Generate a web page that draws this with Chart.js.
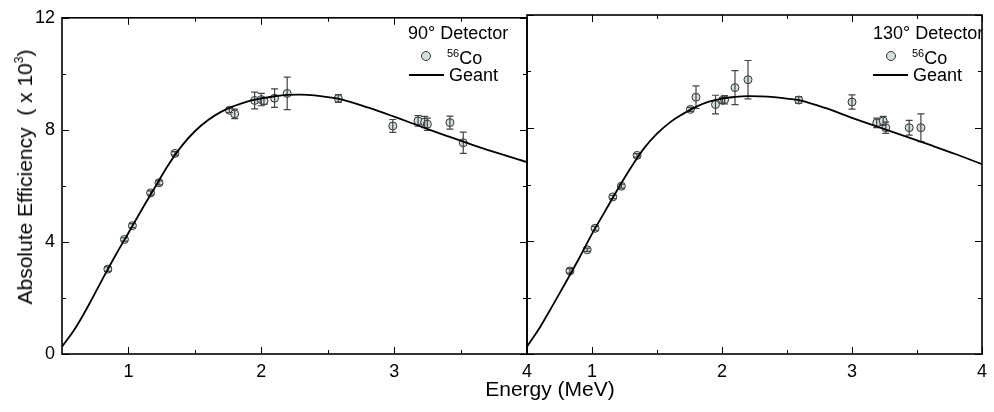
<!DOCTYPE html>
<html>
<head>
<meta charset="utf-8">
<script src="https://cdn.jsdelivr.net/npm/chart.js@4.4.0/dist/chart.umd.min.js"></script>
<style>
  body { margin: 0; background: #fff; font-family: 'Liberation Sans', Arial, sans-serif; }
  #wrap { position: relative; width: 994px; height: 412px; overflow: hidden; }
  canvas { position: absolute; left: 0; top: 0; }
  .txt { position: absolute; color: #000; white-space: nowrap; line-height: 1; font-size: 18px; }
  .sup { font-size: 11px; vertical-align: 7px; }
  .dot { position: absolute; width: 8px; height: 8px; border: 1px solid #333; border-radius: 50%; background: #d3dede; }
  .ln { position: absolute; height: 0; border-top: 2px solid #000; }
</style>
</head>
<body>
<div id="wrap">
  <canvas id="left" width="994" height="412"></canvas>
  <canvas id="right" width="994" height="412"></canvas>

  <div class="txt" style="left:24px;top:177px;font-size:21px;transform:translate(-50%,-50%) rotate(-90deg);">Absolute Efficiency&nbsp;&nbsp;( x 10<span style="font-size:12px;vertical-align:9px;">3</span>)</div>
  <div class="txt" style="left:550px;top:378px;font-size:21px;transform:translateX(-50%);">Energy (MeV)</div>

  <!-- 90 deg legend -->
  <div class="txt" style="left:408px;top:24px;">90° Detector</div>
  <div class="dot" style="left:421px;top:51px;"></div>
  <div class="txt" style="left:447px;top:48px;"><span class="sup">56</span>Co</div>
  <div class="ln" style="left:409px;top:74px;width:35px;"></div>
  <div class="txt" style="left:449px;top:66px;">Geant</div>

  <!-- 130 deg legend -->
  <div class="txt" style="left:873px;top:24px;">130° Detector</div>
  <div class="dot" style="left:886px;top:51px;"></div>
  <div class="txt" style="left:912px;top:48px;"><span class="sup">56</span>Co</div>
  <div class="ln" style="left:873px;top:74px;width:35px;"></div>
  <div class="txt" style="left:913px;top:66px;">Geant</div>
</div>
<script>
// 56Co measured efficiencies (x 10^3) vs energy (MeV)
const energy90 = [0.845, 0.97, 1.03, 1.167, 1.23, 1.35, 1.76, 1.80, 1.95, 2.00, 2.02, 2.10, 2.195, 2.58, 2.99, 3.18, 3.23, 3.25, 3.42, 3.52];
const eff90    = [3.03, 4.09, 4.58, 5.75, 6.11, 7.16, 8.70, 8.57, 9.05, 9.08, 9.03, 9.13, 9.30, 9.12, 8.14, 8.32, 8.28, 8.20, 8.26, 7.54];
const err90    = [0.08, 0.06, 0.07, 0.07, 0.07, 0.06, 0.08, 0.17, 0.30, 0.22, 0.12, 0.33, 0.58, 0.14, 0.23, 0.19, 0.20, 0.22, 0.23, 0.38];

const energy130 = [0.83, 0.963, 1.024, 1.16, 1.226, 1.347, 1.757, 1.80, 1.95, 2.004, 2.02, 2.10, 2.20, 2.59, 3.00, 3.19, 3.24, 3.26, 3.44, 3.53];
const eff130    = [2.94, 3.69, 4.45, 5.56, 5.94, 7.03, 8.66, 9.09, 8.83, 8.98, 9.00, 9.43, 9.71, 8.99, 8.92, 8.18, 8.25, 8.01, 8.01, 8.01];
const err130    = [0.08, 0.06, 0.07, 0.06, 0.07, 0.06, 0.07, 0.40, 0.33, 0.10, 0.15, 0.60, 0.68, 0.12, 0.25, 0.17, 0.16, 0.20, 0.26, 0.49];

// Geant simulation curves
const geantE   = [0.5, 0.6, 0.7, 0.8, 0.9, 1.0, 1.1, 1.2, 1.3, 1.4, 1.5, 1.6, 1.7, 1.8, 1.9, 2.0, 2.1, 2.2, 2.3, 2.4, 2.5, 2.6, 2.8, 3.0, 3.2, 3.4, 3.6, 3.8, 4.0];
const geant90  = [0.26, 0.92, 1.74, 2.63, 3.5, 4.32, 5.15, 5.95, 6.75, 7.42, 7.95, 8.35, 8.65, 8.86, 9.02, 9.12, 9.2, 9.25, 9.26, 9.23, 9.17, 9.09, 8.8, 8.47, 8.12, 7.78, 7.45, 7.14, 6.85];
const geant130 = [0.26, 0.95, 1.74, 2.55, 3.38, 4.25, 5.05, 5.85, 6.6, 7.28, 7.8, 8.2, 8.5, 8.75, 8.93, 9.04, 9.1, 9.13, 9.12, 9.09, 9.04, 8.98, 8.7, 8.36, 8.04, 7.72, 7.4, 7.07, 6.72];

// axis ticks
const xMajor = [1, 2, 3, 4];
const xMinor = [1.5, 2.5, 3.5];
const yMajor = [0, 4, 8, 12];
const yMinor = [2, 6, 10];

const FONT = "'Liberation Sans', Arial, sans-serif";

// frame + inward ticks on all four sides
const frameTicks = {
    id: 'frameTicks',
    afterDraw(chart) {
        const { ctx, chartArea: a, scales: { x, y } } = chart;
        ctx.save();
        ctx.strokeStyle = '#000';
        ctx.lineWidth = 1;
        ctx.beginPath();
        const xt = (vals, len) => vals.forEach(v => {
            const px = Math.round(x.getPixelForValue(v)) + 0.5;
            ctx.moveTo(px, a.bottom); ctx.lineTo(px, a.bottom - len);
            ctx.moveTo(px, a.top); ctx.lineTo(px, a.top + len);
        });
        const yt = (vals, len) => vals.forEach(v => {
            const py = Math.round(y.getPixelForValue(v)) + 0.5;
            ctx.moveTo(a.left, py); ctx.lineTo(a.left + len, py);
            ctx.moveTo(a.right, py); ctx.lineTo(a.right - len, py);
        });
        xt(xMajor, 7); xt(xMinor, 4);
        yt(yMajor, 7); yt(yMinor, 4);
        ctx.stroke();
        ctx.lineWidth = 1.6;
        ctx.strokeRect(a.left, a.top, a.right - a.left, a.bottom - a.top);
        ctx.restore();
    }
};

// vertical error bars for the measured points
const errorBars = {
    id: 'errorBars',
    afterDatasetDraw(chart, args) {
        const ds = chart.data.datasets[args.index];
        if (!ds.errors) return;
        const { ctx, scales: { x, y } } = chart;
        ctx.save();
        ctx.strokeStyle = '#444';
        ctx.lineWidth = 1.2;
        ctx.beginPath();
        ds.data.forEach((d, i) => {
            const px = x.getPixelForValue(d.x);
            const top = y.getPixelForValue(d.y + ds.errors[i]);
            const bot = y.getPixelForValue(d.y - ds.errors[i]);
            ctx.moveTo(px, top); ctx.lineTo(px, bot);
            ctx.moveTo(px - 3.5, top); ctx.lineTo(px + 3.5, top);
            ctx.moveTo(px - 3.5, bot); ctx.lineTo(px + 3.5, bot);
        });
        ctx.stroke();
        ctx.restore();
    }
};

function makePanel(id, energies, effs, errs, curve, isLeft) {
    const points = energies.map((e, i) => ({ x: e, y: effs[i] }));
    const line = geantE.map((e, i) => ({ x: e, y: curve[i] }));

    return new Chart(document.getElementById(id), {
        type: 'scatter',
        data: {
            datasets: [
                {
                    type: 'line',
                    label: 'Geant',
                    data: line,
                    borderColor: '#000',
                    borderWidth: 1.8,
                    pointRadius: 0,
                    fill: false,
                    tension: 0.4,
                    order: 0
                },
                {
                    label: '56Co',
                    data: points,
                    errors: errs,
                    pointRadius: 4,
                    pointBackgroundColor: '#d3dede',
                    pointBorderColor: '#333',
                    pointBorderWidth: 1,
                    order: 1
                }
            ]
        },
        options: {
            responsive: false,
            animation: false,
            devicePixelRatio: 1,
            layout: {
                padding: isLeft ? { left: 0, right: 467, top: 15, bottom: 0 }
                                : { left: 527, right: 4, top: 15, bottom: 0 }
            },
            scales: {
                x: {
                    type: 'linear',
                    min: 0.5,
                    max: 4,
                    grid: { display: false, drawTicks: false },
                    border: { display: false },
                    afterBuildTicks: s => { s.ticks = xMajor.map(v => ({ value: v })); },
                    afterFit: s => { s.height = 58; },
                    ticks: { color: '#000', padding: 7, maxRotation: 0, font: { family: FONT, size: 18 } }
                },
                y: {
                    type: 'linear',
                    min: 0,
                    max: 12,
                    grid: { display: false, drawTicks: false },
                    border: { display: false },
                    afterBuildTicks: s => { s.ticks = yMajor.map(v => ({ value: v })); },
                    afterFit: s => { s.width = isLeft ? 62 : 0; },
                    ticks: { display: isLeft, color: '#000', padding: 7, font: { family: FONT, size: 18 } }
                }
            },
            plugins: {
                legend: { display: false },
                tooltip: { enabled: false }
            }
        },
        plugins: [errorBars, frameTicks]
    });
}

makePanel('left', energy90, eff90, err90, geant90, true);
makePanel('right', energy130, eff130, err130, geant130, false);
</script>
</body>
</html>
